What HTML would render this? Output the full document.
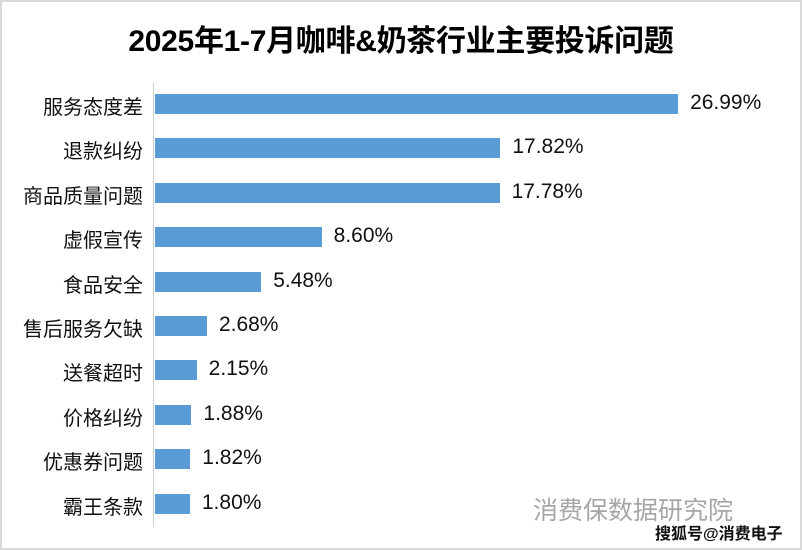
<!DOCTYPE html>
<html><head><meta charset="utf-8"><style>
body{margin:0;width:802px;height:550px;overflow:hidden;background:#fff;font-family:"Liberation Sans","Noto Sans CJK SC",sans-serif;}
.frame{position:absolute;left:0;top:0;width:798px;height:546px;border:2px solid #d9d9d9;}
.t{position:absolute;white-space:nowrap;}
.bar{position:absolute;left:155px;height:20px;background:#5b9bd5;}
</style></head><body>
<div class="frame"></div>
<div class="t" style="left:0;width:802px;text-align:center;top:16px;font-size:30px;font-weight:bold;color:#000;letter-spacing:-0.3px;">2025年1-7月咖啡&amp;奶茶行业主要投诉问题</div>
<div style="position:absolute;left:153px;top:83px;width:1px;height:444px;background:#d0d0d0"></div>
<div id="c"></div>
<div class="t" style="left:533px;top:491px;font-size:25px;color:#a6a6a6;">消费保数据研究院</div>
<div class="t" style="left:655px;top:520px;font-size:16px;font-weight:bold;color:#111;">搜狐号@消费电子</div>
<script>
var d=[["服务态度差",26.99],["退款纠纷",17.82],["商品质量问题",17.78],["虚假宣传",8.60],["食品安全",5.48],["售后服务欠缺",2.68],["送餐超时",2.15],["价格纠纷",1.88],["优惠券问题",1.82],["霸王条款",1.80]];
var h="";
d.forEach(function(r,i){var y=104+i*44.4;var w=r[1]*19.38;
h+='<div class="t" style="right:659px;top:'+(y-13)+'px;font-size:20px;color:#111;">'+r[0]+'</div>';
h+='<div class="bar" style="top:'+(y-10)+'px;width:'+w+'px"></div>';
h+='<div class="t" style="left:'+(155+w+12)+'px;top:'+(y-13)+'px;font-size:21px;color:#111;">'+r[1].toFixed(2)+'%</div>';});
document.getElementById("c").innerHTML=h;
</script>
</body></html>
